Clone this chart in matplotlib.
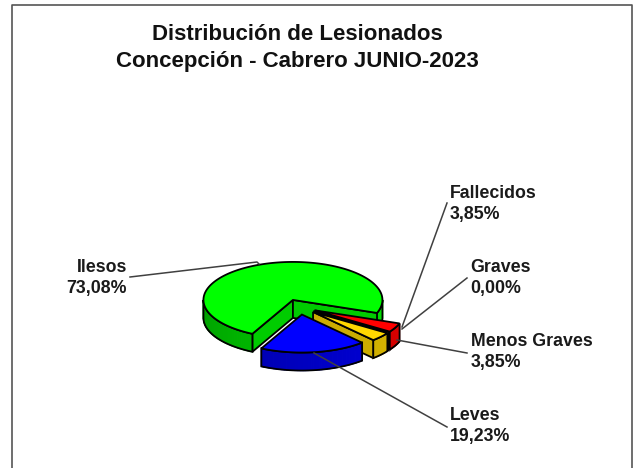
import matplotlib
matplotlib.use('Agg')
import matplotlib.pyplot as plt
import numpy as np
from matplotlib.patches import Polygon

plt.rcParams['font.family'] = ['Liberation Sans', 'DejaVu Sans']

categories = ['Fallecidos', 'Graves', 'Menos Graves', 'Leves', 'Ilesos']
percent_labels = ['3,85%', '0,00%', '3,85%', '19,23%', '73,08%']
values = [3.85, 0.0, 3.85, 19.23, 73.08]
top_colors = ['#ff0000', '#ff0000', '#ffd700', '#0000ff', '#00ff00']

# pie geometry in pixels
CX, CY = 299.5, 307.0
RX, RY = 89.5, 38.0
DEPTH = 18.0
EXPLODE = 0.2
START_ANGLE = -20.0

# label text position, then leader line points
label_pos = {
    'Fallecidos': (450, 194),
    'Graves': (470, 268),
    'Menos Graves': (471, 342),
    'Leves': (450, 416),
    'Ilesos': (127, 268),
}
leaders = {
    'Fallecidos': [(447, 203), (402, 327)],
    'Graves': [(467, 278), (402, 329)],
    'Menos Graves': [(467, 353), (397, 340)],
    'Leves': [(447, 427), (314, 353)],
    'Ilesos': [(130, 277), (257, 262), (259, 264)],
}


def darker(color, factor):
    rgb = np.array(matplotlib.colors.to_rgb(color))
    return tuple(rgb * factor)


def ellipse_point(cx, cy, angle):
    a = np.radians(angle)
    return cx + RX * np.cos(a), cy - RY * np.sin(a)


def draw_radial_face(ax, cx, cy, angle, color, z):
    px, py = ellipse_point(cx, cy, angle)
    pts = [(cx, cy), (px, py), (px, py + DEPTH), (cx, cy + DEPTH)]
    ax.add_patch(Polygon(pts, closed=True, fc=darker(color, 0.8), ec='black', lw=1.3, zorder=z))


def draw_rim(ax, cx, cy, a_low, a_high, color, z):
    # only the part of the rim that looks towards the viewer
    for k in [-1, 0, 1]:
        lo = max(a_low, -180 + 360 * k)
        hi = min(a_high, 360 * k)
        if hi <= lo:
            continue
        angles = np.linspace(lo, hi, 41)
        for a0, a1 in zip(angles[:-1], angles[1:]):
            shade = 0.62 + 0.26 * (((a0 + a1) / 2 - 360 * k + 180) / 180)
            p0 = ellipse_point(cx, cy, a0)
            p1 = ellipse_point(cx, cy, a1)
            pts = [p0, p1, (p1[0], p1[1] + DEPTH), (p0[0], p0[1] + DEPTH)]
            ax.add_patch(Polygon(pts, closed=True, fc=darker(color, shade), ec=darker(color, shade),
                                 lw=0.9, zorder=z))
        top = [ellipse_point(cx, cy, a) for a in angles]
        bottom = [(x, y + DEPTH) for x, y in top]
        outline = top + bottom[::-1]
        ax.add_patch(Polygon(outline, closed=True, fill=False, ec='black', lw=1.3, zorder=z))


def draw_slice(ax, a_high, a_low, color, z):
    # a_high is the counter-clockwise end, a_low the clockwise end
    mid = np.radians((a_high + a_low) / 2)
    cx = CX + EXPLODE * RX * np.cos(mid)
    cy = CY - EXPLODE * RY * np.sin(mid)

    if np.sin(np.radians(a_high + 90)) < 0:
        draw_radial_face(ax, cx, cy, a_high, color, z)
    if np.sin(np.radians(a_low - 90)) < 0:
        draw_radial_face(ax, cx, cy, a_low, color, z + 0.1)
    draw_rim(ax, cx, cy, a_low, a_high, color, z + 0.2)

    arc = [ellipse_point(cx, cy, a) for a in np.linspace(a_low, a_high, 200)]
    ax.add_patch(Polygon([(cx, cy)] + arc, closed=True, fc=color, ec='black', lw=1.3, zorder=z + 0.3))


def main():
    fig = plt.figure(figsize=(6.35, 4.68), dpi=100)
    ax = fig.add_axes([0, 0, 1, 1])
    ax.set_xlim(0, 635)
    ax.set_ylim(468, 0)
    ax.axis('off')

    # chart frame, open at the bottom
    ax.plot([12, 12, 632, 632], [468, 5, 5, 468], color='#555555', lw=1.2, zorder=1)

    ax.text(297, 35, 'Distribución de Lesionados', ha='center', va='center',
            fontsize=16, fontweight='bold', color='#111111')
    ax.text(297, 62, 'Concepción - Cabrero JUNIO-2023', ha='center', va='center',
            fontsize=16, fontweight='bold', color='#111111')

    # slices go clockwise from the start angle
    bounds = START_ANGLE - np.cumsum([0] + values) * 3.6
    draw_order = [4, 0, 1, 2, 3]
    for n, i in enumerate(draw_order):
        draw_slice(ax, bounds[i], bounds[i + 1], top_colors[i], 5 + n)

    for name, pct in zip(categories, percent_labels):
        x, y = label_pos[name]
        ha = 'right' if name == 'Ilesos' else 'left'
        ax.text(x, y, name, ha=ha, va='center', fontsize=12.8, fontweight='bold', color='#1a1a1a', zorder=20)
        ax.text(x, y + 20.5, pct, ha=ha, va='center', fontsize=12.8, fontweight='bold', color='#1a1a1a', zorder=20)
        pts = np.array(leaders[name])
        ax.plot(pts[:, 0], pts[:, 1], color='#404040', lw=1.1, zorder=15)

    fig.savefig('out.png', dpi=100, facecolor='white')


if __name__ == "__main__":
    main()
